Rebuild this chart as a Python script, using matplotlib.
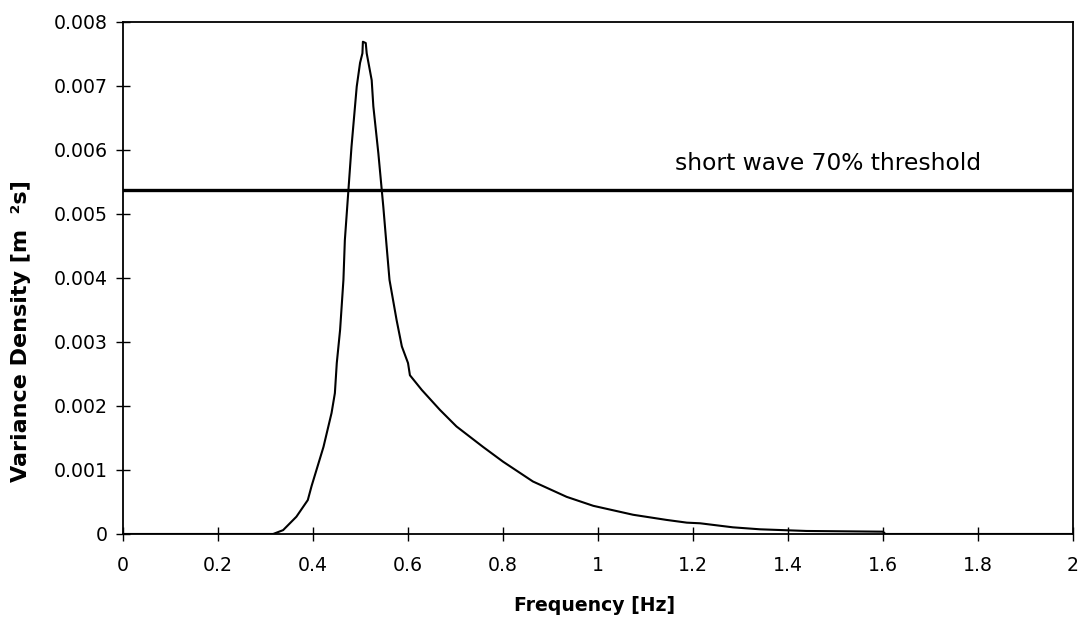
import matplotlib.pyplot as plt
import numpy as np

plt.rcParams['font.family'] = ['DejaVu Sans']

# spectrum
freq = [0.0, 0.316, 0.337, 0.365, 0.389, 0.397, 0.422, 0.439, 0.446, 0.450,
        0.457, 0.464, 0.467, 0.481, 0.492, 0.499, 0.504, 0.505, 0.511, 0.513,
        0.5235, 0.527, 0.5375, 0.548, 0.555, 0.561, 0.576, 0.587, 0.600, 0.604,
        0.629, 0.667, 0.702, 0.758, 0.800, 0.863, 0.934, 0.990, 1.074, 1.144,
        1.187, 1.215, 1.284, 1.341, 1.439, 1.600, 1.605, 2.0]
var_density = [0.0, 0.0, 0.00006, 0.00027, 0.00053, 0.00075, 0.00136, 0.00189, 0.0022, 0.00267,
               0.00319, 0.00397, 0.00459, 0.00605, 0.00699, 0.00736, 0.00751, 0.00769, 0.00767, 0.00751,
               0.00709, 0.00668, 0.00595, 0.00511, 0.00449, 0.00397, 0.00334, 0.00293, 0.00267, 0.00248,
               0.00225, 0.00194, 0.00168, 0.00136, 0.00113, 0.00082, 0.00058, 0.00044, 0.0003, 0.00022,
               0.000177, 0.000167, 0.000104, 0.000073, 0.000047, 0.000036, 0.0, 0.0]

threshold = 0.005375
x_ticks = [0, 0.2, 0.4, 0.6, 0.8, 1, 1.2, 1.4, 1.6, 1.8, 2]
y_ticks = [0, 0.001, 0.002, 0.003, 0.004, 0.005, 0.006, 0.007, 0.008]

fig = plt.figure(figsize=(10.86, 6.26), dpi=100)
ax = fig.add_axes([0.1133, 0.147, 0.8747, 0.818])

ax.plot(freq, var_density, color='k', lw=1.5)
ax.axhline(threshold, color='k', lw=2.4)
ax.text(1.162, 0.00569, "short wave 70% threshold", fontsize=16.8, va='baseline', ha='left')

ax.set_xlim(0, 2)
ax.set_ylim(0, 0.008)
ax.set_xticks(x_ticks)
ax.set_xticklabels([f"{t:g}" for t in x_ticks])
ax.set_yticks(y_ticks)
ax.set_yticklabels([f"{t:g}" for t in y_ticks])
ax.tick_params(direction='inout', length=10, width=1, labelsize=13.6)
ax.tick_params(axis='x', pad=11)
ax.tick_params(axis='y', pad=6)

for s in ax.spines.values():
    s.set_linewidth(1.3)
    s.set_color('k')

ax.set_xlabel("Frequency [Hz]", fontsize=13.6, fontweight='bold')
ax.set_ylabel("Variance Density [m  ²s]", fontsize=16, fontweight='bold')
ax.xaxis.set_label_coords(0.496, -0.121)
ax.yaxis.set_label_coords(-0.097, 0.396)

fig.savefig("out.png", dpi=100)
